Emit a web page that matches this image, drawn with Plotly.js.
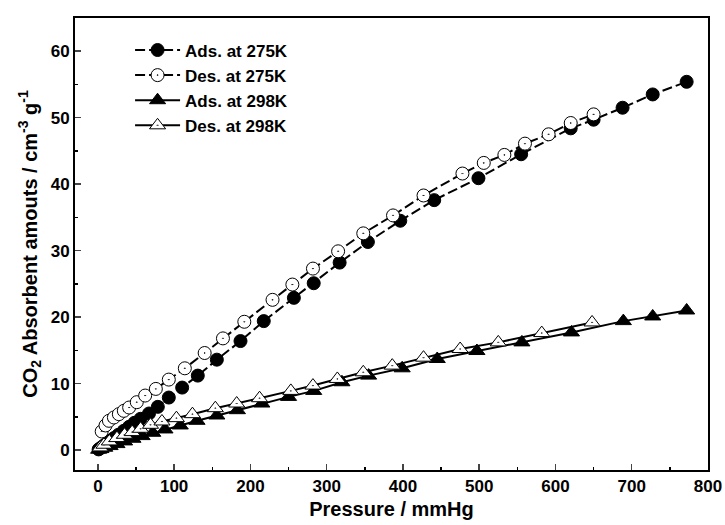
<!DOCTYPE html>
<html>
<head>
<meta charset="utf-8">
<script src="https://cdn.plot.ly/plotly-3.0.1.min.js"></script>
<style>html,body{margin:0;padding:0;background:#fff;}#chart{width:725px;height:525px;}</style>
</head>
<body>
<div id="chart"></div>
<script>
// Ads. at 275K
const ads275P = [1, 4, 8, 12, 16, 21, 27, 34, 41, 48, 56, 67, 78.6, 93, 110.5, 131, 156, 187, 217.5, 257, 283, 317, 354, 396.5, 441, 499, 555, 620, 650, 688, 727.5, 772];
const ads275V = [0.1, 0.35, 0.7, 1.0, 1.4, 1.8, 2.3, 2.9, 3.5, 4.1, 4.7, 5.5, 6.5, 7.9, 9.4, 11.2, 13.6, 16.4, 19.4, 22.9, 25.1, 28.2, 31.3, 34.5, 37.6, 40.9, 44.5, 48.4, 49.7, 51.5, 53.5, 55.4];
// Des. at 275K
const des275P = [5, 10, 14.5, 21, 27.5, 34, 41, 51, 62, 76, 93, 114, 140, 164, 192, 229, 255, 282, 315, 348, 387, 427, 478, 506, 533, 560, 591, 620, 650];
const des275V = [2.8, 3.7, 4.4, 4.9, 5.4, 5.9, 6.4, 7.2, 8.2, 9.2, 10.6, 12.3, 14.6, 16.8, 19.3, 22.6, 24.9, 27.3, 29.9, 32.6, 35.3, 38.3, 41.6, 43.2, 44.4, 46.1, 47.5, 49.2, 50.5];
// Ads. at 298K
const ads298P = [1, 4, 9, 16, 25, 35, 46, 58, 72, 88, 108, 130, 156, 183, 215, 250, 283, 320, 355, 399, 445, 497, 556, 621, 689, 727.5, 772];
const ads298V = [0.05, 0.15, 0.35, 0.6, 0.9, 1.3, 1.7, 2.1, 2.6, 3.1, 3.7, 4.4, 5.2, 6.0, 7.0, 8.0, 8.9, 10.2, 11.2, 12.3, 13.7, 14.9, 16.2, 17.7, 19.4, 20.1, 21.0];
// Des. at 298K
const des298P = [3, 8, 15, 25, 35, 45, 56, 69, 84, 103, 124, 154, 182, 212, 253, 282, 314, 348, 386, 427, 475, 525, 582, 648];
const des298V = [0.4, 0.8, 1.3, 1.8, 2.3, 2.7, 3.2, 3.8, 4.3, 4.8, 5.4, 6.3, 7.0, 7.8, 8.9, 9.7, 10.7, 11.7, 12.7, 13.9, 15.2, 16.2, 17.6, 19.2];

const names = ["Ads. at 275K", "Des. at 275K", "Ads. at 298K", "Des. at 298K"];
const xTitle = "Pressure / mmHg";
const yTitle = "CO<sub>2</sub> Absorbent amouts / cm<sup>-3</sup> g<sup>-1</sup>";

const traces = [
  {x: ads275P, y: ads275V, name: names[0], mode: "lines+markers",
   line: {color: "black", width: 2, dash: "10px,4px"},
   marker: {symbol: "circle", size: 13, color: "black", line: {color: "black", width: 1}}},
  {x: des275P, y: des275V, name: names[1], mode: "lines+markers",
   line: {color: "black", width: 2, dash: "10px,4px"},
   marker: {symbol: "circle-dot", size: 13, color: "white", line: {color: "black", width: 1}}},
  {x: ads298P, y: ads298V, name: names[2], mode: "lines+markers",
   line: {color: "black", width: 2},
   marker: {symbol: "triangle-up", size: 14, color: "black", line: {color: "black", width: 1}}},
  {x: des298P, y: des298V, name: names[3], mode: "lines+markers",
   line: {color: "black", width: 2},
   marker: {symbol: "triangle-up-dot", size: 14, color: "white", line: {color: "black", width: 1}}}
];

const fontFam = "Liberation Sans, Arial, sans-serif";
const layout = {
  width: 725, height: 525,
  margin: {l: 75, r: 17, t: 18, b: 55},
  paper_bgcolor: "white", plot_bgcolor: "white",
  font: {family: fontFam, color: "black"},
  showlegend: true,
  legend: {x: 0.087, y: 0.968, xanchor: "left", yanchor: "top",
           font: {family: fontFam, size: 17, weight: "bold", color: "black"},
           bgcolor: "rgba(0,0,0,0)", tracegroupgap: 0, itemwidth: 45},
  xaxis: {range: [-30, 800], dtick: 100, tick0: 0, ticks: "inside", ticklen: 6, tickwidth: 1.5,
          minor: {dtick: 50, ticks: "inside", ticklen: 3, tickwidth: 1.5, tickcolor: "black"},
          showline: true, linecolor: "black", linewidth: 2, mirror: true,
          showgrid: false, zeroline: false,
          tickfont: {family: fontFam, size: 17, weight: "bold", color: "black"},
          title: {text: xTitle, font: {family: fontFam, size: 20, weight: "bold", color: "black"}, standoff: 7}},
  yaxis: {range: [-3, 65], dtick: 10, tick0: 0, ticks: "inside", ticklen: 6, tickwidth: 1.5,
          minor: {dtick: 5, ticks: "inside", ticklen: 3, tickwidth: 1.5, tickcolor: "black"},
          showline: true, linecolor: "black", linewidth: 2, mirror: true,
          showgrid: false, zeroline: false,
          tickfont: {family: fontFam, size: 17, weight: "bold", color: "black"},
          title: {text: yTitle, font: {family: fontFam, size: 20, weight: "bold", color: "black"}, standoff: 8}}
};

Plotly.newPlot("chart", traces, layout, {displayModeBar: false, staticPlot: true});
</script>
</body>
</html>
